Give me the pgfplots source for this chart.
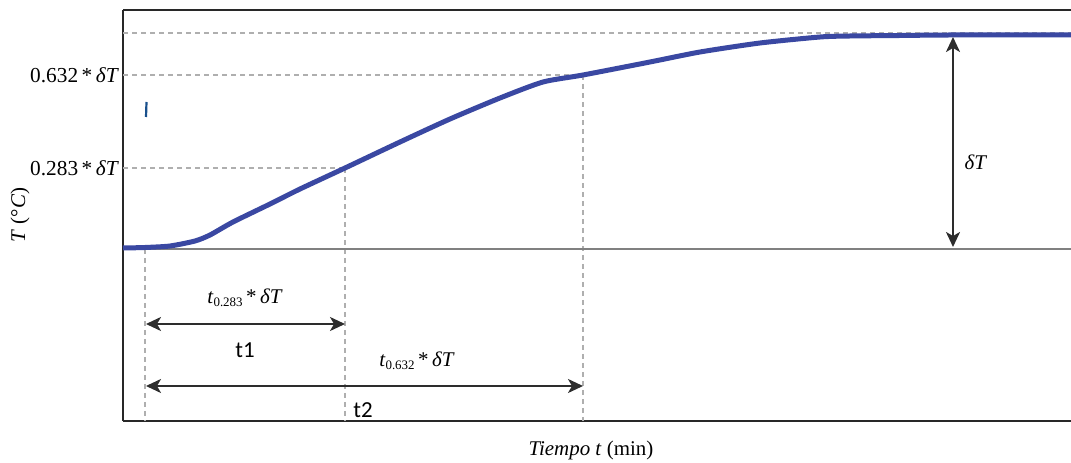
\documentclass[border=0pt]{standalone}
\usepackage{fontspec}
\setmainfont{Liberation Serif}
\newfontfamily\calibri{Carlito}
\usepackage{pgfplots}
\pgfplotsset{compat=1.18}
\usetikzlibrary{arrows.meta}
\definecolor{curvecol}{RGB}{58,72,162}
\definecolor{dashcol}{RGB}{175,175,175}
\definecolor{framecol}{RGB}{40,40,40}
\definecolor{arrcol}{RGB}{45,45,45}
\definecolor{markcol}{RGB}{25,80,140}
\tikzset{refdash/.style={dashcol, line width=0.6bp, dash pattern=on 2.5bp off 2bp},
  dimarrow/.style={arrcol, line width=1bp, {Stealth[length=7.5bp,width=7bp,inset=2bp]}-{Stealth[length=7.5bp,width=7bp,inset=2bp]}}}
\begin{document}
\begin{tikzpicture}[x=1bp,y=1bp]
\begin{axis}[
  at={(61.5bp,21bp)}, anchor=south west,
  scale only axis, width=474bp, height=205.5bp,
  xmin=123, xmax=1071, ymin=42, ymax=453,
  axis x line*=box, axis y line*=left,
  axis line style={framecol, line width=1bp},
  xtick=\empty,
  ytick={214,295,388},
  yticklabels={{},{0.283\,*\,\textit{δT}},{0.632\,*\,\textit{δT}}},
  major tick length=0pt,
  yticklabel style={font=\fontsize{10.7}{12}\selectfont, xshift=1.5bp},
  clip=false,
]
% reference lines
\addplot[refdash] coordinates {(123,430) (1071,430)};
\addplot[refdash] coordinates {(123,388) (583,388)};
\addplot[refdash] coordinates {(123,295) (345,295)};
\addplot[refdash] coordinates {(145,214) (145,42)};
\addplot[refdash] coordinates {(345,295) (345,42)};
\addplot[refdash] coordinates {(583,388) (583,42)};
\addplot[gray, line width=0.6bp] coordinates {(123,214) (1071,214)};
% curve
\addplot[curvecol, line width=2.5bp, smooth, tension=0.4] coordinates {
(123,215) (145,215.5) (170,217) (195,222) (210,228) (233,241) (270,259) (300,274)
(345,295) (400,321) (450,344) (500,365) (543,381) (583,388) (650,401) (700,411)
(760,420) (820,426) (850,427) (900,427.5) (950,428) (1071,428)};
% stray mark
\addplot[markcol, line width=1.1bp] coordinates {(146.5,361) (146,346)};
% arrows
\addplot[dimarrow] coordinates {(146,139) (345,139)};
\addplot[dimarrow] coordinates {(146,77) (583,77)};
\addplot[dimarrow] coordinates {(953,426) (953,216)};
% labels
\node[font=\fontsize{10.5}{12}\selectfont] at (axis cs:245,165) {\textit{t}\raisebox{-0.3ex}{\fontsize{6.5}{7}\selectfont 0.283}\,*\,\textit{δT}};
\node[font=\calibri\fontsize{11.5}{13}\selectfont] at (axis cs:245,113) {t1};
\node[font=\fontsize{10.5}{12}\selectfont] at (axis cs:417,102) {\textit{t}\raisebox{-0.3ex}{\fontsize{6.5}{7}\selectfont 0.632}\,*\,\textit{δT}};
\node[font=\calibri\fontsize{11.5}{13}\selectfont] at (axis cs:363,53) {t2};
\node[font=\fontsize{10.5}{12}\selectfont] at (axis cs:976,301) {\textit{δT}};
\node[font=\fontsize{10.5}{12}\selectfont] at (axis cs:591,13) {\textit{Tiempo t} (min)};
\node[font=\fontsize{10.5}{12}\selectfont, rotate=90] at (axis cs:20,248) {\textit{T} (°\textit{C})};
\coordinate (BL) at (axis cs:0,0);
\coordinate (TR) at (axis cs:1071,463);
\end{axis}
\pgfresetboundingbox
\useasboundingbox (BL) rectangle (TR);
\end{tikzpicture}
\end{document}
